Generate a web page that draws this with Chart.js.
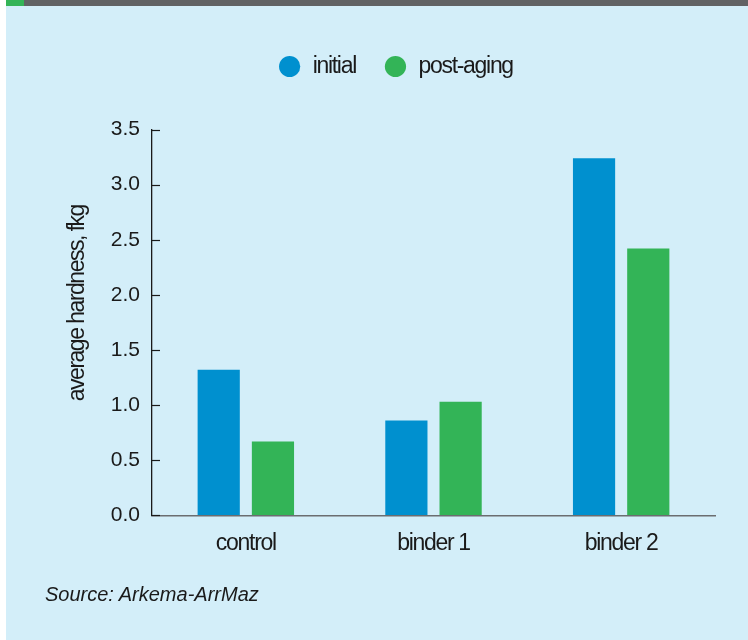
<!DOCTYPE html>
<html>
<head>
<meta charset="utf-8">
<script src="https://cdn.jsdelivr.net/npm/chart.js@4/dist/chart.umd.min.js"></script>
<style>
  html, body { margin: 0; padding: 0; }
  body { width: 748px; height: 640px; position: relative; overflow: hidden; background: #ffffff; }
  #panel { position: absolute; left: 6px; top: 0; width: 742px; height: 640px; background: #d3eef9; }
  #topbar { position: absolute; left: 6px; top: 0; width: 742px; height: 6px; background: #616264; }
  #topbar-accent { position: absolute; left: 6px; top: 0; width: 18px; height: 6px; background: #33b457; }
  #chart { position: absolute; left: 0; top: 0; }
  #source {
    position: absolute; left: 45px; top: 583px;
    font-family: "Liberation Sans", Arial, sans-serif; font-style: italic;
    font-size: 20px; color: #1a1a1a;
  }
</style>
</head>
<body>
<div id="panel"></div>
<div id="topbar"></div>
<div id="topbar-accent"></div>
<canvas id="chart" width="748" height="640"></canvas>
<div id="source">Source: Arkema-ArrMaz</div>
<script>
// Average hardness (fkg) per sample, before and after aging
const categories = ["control", "binder 1", "binder 2"];
const initialHardness = [1.32, 0.86, 3.24];
const postAgingHardness = [0.67, 1.03, 2.42];
const yTickValues = [0, 0.5, 1.0, 1.5, 2.0, 2.5, 3.0, 3.5];
const yAxisTitle = 'average hardness, fkg';

const NARROW = "'Liberation Sans Narrow', 'Arial Narrow', 'Liberation Sans', sans-serif";
const REGULAR = "'Liberation Sans', Arial, sans-serif";
const TIGHT = '-1.3px';   // condensed look for the label text
const INK = '#1a1a1a';

// Tightened lettering for legend and category labels; y tick numbers stay normal
const lettering = {
  id: 'lettering',
  afterInit(chart) { chart.ctx.letterSpacing = TIGHT; },
  beforeUpdate(chart) { chart.ctx.letterSpacing = TIGHT; },
  beforeLayout(chart) {
    // leave room between the legend row and the plot
    const lg = chart.legend;
    if (lg && !lg._spaced) {
      const fit = lg.fit.bind(lg);
      lg.fit = function () { fit(); this.height += 41.5; };
      lg._spaced = true;
    }
  },
  beforeDraw(chart) {
    chart.ctx.letterSpacing = TIGHT;
    const ys = chart.scales.y;
    if (ys && !ys._plainLabels) {
      const draw = ys.drawLabels.bind(ys);
      ys.drawLabels = function (area) {
        const c = this.ctx, prev = c.letterSpacing;
        c.letterSpacing = '0px';
        draw(area);
        c.letterSpacing = prev;
      };
      ys._plainLabels = true;
    }
  }
};

// Short tick marks on the inside of the y axis, and the rotated axis title
const yAxisDecor = {
  id: 'yAxisDecor',
  afterDatasetsDraw(chart) {
    const y = chart.scales.y;
    const ctx = chart.ctx;
    ctx.save();
    ctx.strokeStyle = INK;
    ctx.lineWidth = 1.2;
    y.ticks.forEach(t => {
      const py = Math.round(y.getPixelForValue(t.value)) + 0.5;
      ctx.beginPath();
      ctx.moveTo(y.right, py);
      ctx.lineTo(y.right + 8, py);
      ctx.stroke();
    });
    ctx.translate(78, y.top + (y.bottom - y.top) * 0.45);
    ctx.rotate(-Math.PI / 2);
    ctx.font = "23px " + NARROW;
    ctx.letterSpacing = '-1.5px';
    ctx.fillStyle = INK;
    ctx.textAlign = 'center';
    ctx.textBaseline = 'middle';
    ctx.fillText(yAxisTitle, 0, 0);
    ctx.restore();
  }
};

new Chart(document.getElementById('chart'), {
  type: 'bar',
  data: {
    labels: categories,
    datasets: [
      { label: 'initial', data: initialHardness, backgroundColor: '#0090cf',
        categoryPercentage: 0.578, barPercentage: 0.778 },
      { label: 'post-aging', data: postAgingHardness, backgroundColor: '#33b457',
        categoryPercentage: 0.578, barPercentage: 0.778 }
    ]
  },
  options: {
    responsive: false,
    animation: false,
    layout: { padding: { left: 76, right: 33, top: 27, bottom: 69 } },
    plugins: {
      tooltip: { enabled: false },
      legend: {
        position: 'top',
        labels: {
          usePointStyle: true,
          pointStyle: 'circle',
          boxHeight: 15,
          padding: 28,
          color: INK,
          font: { family: NARROW, size: 23 }
        }
      }
    },
    scales: {
      x: {
        grid: { drawOnChartArea: false, drawTicks: false },
        border: { color: '#6b6d70', width: 1.6 },
        ticks: { color: INK, padding: 14, font: { family: NARROW, size: 23 } }
      },
      y: {
        min: 0,
        max: 3.5,
        afterFit(scale) { scale.width = 76; },
        afterBuildTicks(scale) { scale.ticks = yTickValues.map(v => ({ value: v })); },
        grid: { drawOnChartArea: false, drawTicks: false },
        border: { color: INK, width: 1.3 },
        ticks: {
          color: INK, padding: 12,
          font: { family: REGULAR, size: 21 },
          callback: v => Number(v).toFixed(1)
        }
      }
    }
  },
  plugins: [lettering, yAxisDecor]
});
</script>
</body>
</html>
